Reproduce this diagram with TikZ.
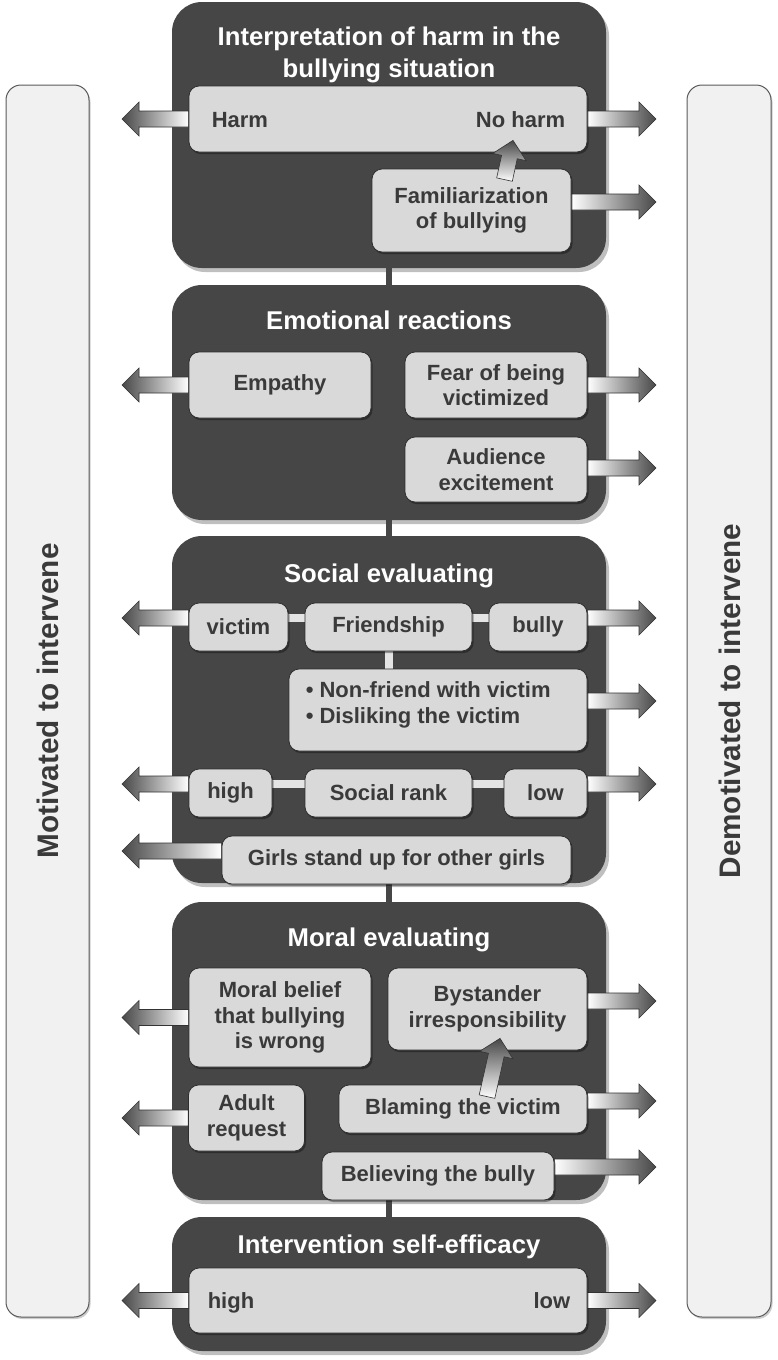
\documentclass[tikz,border=0pt]{standalone}
\usepackage{fontspec}
\setmainfont{Liberation Sans}
\usetikzlibrary{calc,shadows}
\pgfdeclarelayer{back}
\pgfdeclarelayer{mid}
\pgfsetlayers{back,mid,main}
\definecolor{panel}{HTML}{464646}
\definecolor{boxfill}{HTML}{D9D9D9}
\definecolor{boxline}{HTML}{2E2E2E}
\definecolor{txt}{HTML}{3A3A3A}
\definecolor{barfill}{HTML}{F1F1F1}
\definecolor{barline}{HTML}{5A5A5A}
\definecolor{arrdark}{HTML}{484848}
\definecolor{lconn}{HTML}{E4E4E4}
\newcommand\boxfont{\bfseries\fontsize{22}{25.5}\selectfont}
\newcommand\titlefont{\bfseries\fontsize{25.7}{32}\selectfont}
\newcommand\sidefont{\bfseries\fontsize{29.7}{34}\selectfont}
% fat arrow from coordinate #1 to tip coordinate #2, shading style #3
\newcommand\fatarrow[3]{%
  \coordinate (hb) at ($(#2)!17pt!(#1)$);
  \path[garrow,#3] ($(#1)!8pt!90:(#2)$) -- ($(hb)!8pt!90:(#2)$) -- ($(hb)!17pt!90:(#2)$) -- (#2)
     -- ($(hb)!17pt!-90:(#2)$) -- ($(hb)!8pt!-90:(#2)$) -- ($(#1)!8pt!-90:(#2)$) -- cycle;}
\begin{document}
\begin{tikzpicture}[x=1pt,y=-1pt,
  panelbox/.style={rectangle, rounded corners=30pt, fill=panel, draw=none, minimum width=434pt, inner sep=0pt,
     drop shadow={shadow xshift=3pt,shadow yshift=-4pt,opacity=0.25,fill=black}},
  bx/.style={rectangle, rounded corners=10pt, fill=boxfill, draw=boxline, line width=0.8pt, text=txt,
     font=\boxfont, align=center, inner sep=0pt,
     drop shadow={shadow xshift=1.5pt,shadow yshift=-2pt,opacity=0.35,fill=black}},
  ttl/.style={text=white, font=\titlefont, align=center, inner sep=0pt},
  lbl/.style={text=txt, font=\boxfont, inner sep=0pt},
  bar/.style={rectangle, rounded corners=15pt, fill=barfill, draw=barline, line width=1pt,
     minimum height=1232pt, inner sep=0pt,
     drop shadow={shadow xshift=1.5pt,shadow yshift=-2pt,opacity=0.2,fill=black}},
  side/.style={text=txt, font=\sidefont, rotate=90, inner sep=0pt},
  garrow/.style={draw=black!80, line width=0.6pt, line join=miter},
  ldir/.style={left color=arrdark, right color=white},
  rdir/.style={left color=white, right color=arrdark},
  udir/.style={top color=arrdark, bottom color=white},
  pconn/.style={draw=panel, line width=6pt},
  iconn/.style={draw=lconn, line width=8pt},
]
\useasboundingbox (0,0) rectangle (777,1360);
\coordinate (leftx) at (122,0);
\coordinate (rightx) at (656,0);

\begin{pgfonlayer}{back}
  \node[bar, minimum width=83pt] (lbar) at (47.5,701) {};
  \node[bar, minimum width=84pt] (rbar) at (729,701) {};
  \node[panelbox, minimum height=266pt] (p1) at (389,135) {};
  \node[panelbox, minimum height=235pt] (p2) at (389,402.5) {};
  \node[panelbox, minimum height=347pt] (p3) at (389,709.5) {};
  \node[panelbox, minimum height=298pt] (p4) at (389,1051) {};
  \node[panelbox, minimum height=134pt] (p5) at (389,1284) {};
  \draw[pconn] (p1.south) -- (p2.north);
  \draw[pconn] (p2.south) -- (p3.north);
  \draw[pconn] (p3.south) -- (p4.north);
  \draw[pconn] (p4.south) -- (p5.north);
\end{pgfonlayer}

\node[side] (mot) at (48,701) {Motivated to intervene};
\node[side] (demot) at (730,701) {Demotivated to intervene};

% titles
\node[ttl] (t1) at (389,55) {Interpretation of harm in the\\bullying situation};
\node[ttl] (t2) at (389,320) {Emotional reactions};
\node[ttl] (t3) at (389,576) {Social evaluating};
\node[ttl] (t4) at (389,940) {Moral evaluating};
\node[ttl] (t5) at (389,1247) {Intervention self-efficacy};

% panel 1
\node[bx, minimum width=398pt, minimum height=66pt] (hn) at (388,119) {};
\node[lbl, anchor=base west] (harm) at ([xshift=23pt,yshift=-8pt]hn.west) {Harm};
\node[lbl, anchor=base east] (noharm) at ([xshift=-22pt,yshift=-8pt]hn.east) {No harm};
\node[bx, minimum width=199pt, minimum height=83pt] (fam) at (471.5,210.5) {Familiarization\\of bullying};

% panel 2
\node[bx, minimum width=182pt, minimum height=66pt] (emp) at (280,385) {Empathy};
\node[bx, minimum width=182pt, minimum height=66pt] (fear) at (496,385) {Fear of being\\victimized};
\node[bx, minimum width=182pt, minimum height=65pt] (aud) at (496,469.5) {Audience\\excitement};

% panel 3
\node[bx, minimum width=99pt, minimum height=48pt] (victim) at (238.5,627) {victim};
\node[bx, minimum width=167pt, minimum height=48pt] (friend) at (388.5,627) {Friendship};
\node[bx, minimum width=98pt, minimum height=48pt] (bully) at (538,627) {bully};
\node[bx, minimum width=298pt, minimum height=82pt] (nf) at (438,710) {};
\node[lbl, anchor=west, align=left] (nftext) at ([xshift=17pt,yshift=5pt]nf.west) {\textbullet\ Non-friend with victim\\\textbullet\ Disliking the victim};
\node[bx, minimum width=83pt, minimum height=48pt] (high) at (230.5,793) {high};
\node[bx, minimum width=167pt, minimum height=48pt] (rank) at (388.5,793) {Social rank};
\node[bx, minimum width=83pt, minimum height=48pt] (low) at (545.5,793) {low};
\node[bx, minimum width=349pt, minimum height=48pt] (girls) at (396.5,860) {Girls stand up for other girls};

% panel 4
\node[bx, minimum width=182pt, minimum height=99pt] (moral) at (280,1017.5) {Moral belief\\that bullying\\is wrong};
\node[bx, minimum width=199pt, minimum height=82pt] (bys) at (487.5,1009) {Bystander\\irresponsibility};
\node[bx, minimum width=116pt, minimum height=66pt] (adult) at (246.5,1118) {Adult\\request};
\node[bx, minimum width=248pt, minimum height=48pt] (blame) at (463,1109) {Blaming the victim};
\node[bx, minimum width=232pt, minimum height=48pt] (believe) at (438,1176) {Believing the bully};

% panel 5
\node[bx, minimum width=398pt, minimum height=65pt] (hl) at (388,1300.5) {};
\node[lbl, anchor=base west] (hltext) at ([xshift=19pt,yshift=-8pt]hl.west) {high};
\node[lbl, anchor=base east] (lltext) at ([xshift=-17pt,yshift=-8pt]hl.east) {low};

\begin{pgfonlayer}{mid}
  % internal connectors
  \draw[iconn] ([yshift=9pt]victim.east) -- ([yshift=9pt]friend.west);
  \draw[iconn] ([yshift=9pt]friend.east) -- ([yshift=9pt]bully.west);
  \draw[iconn] (friend.south) -- (friend.south |- nf.north);
  \draw[iconn] ([yshift=9pt]high.east) -- ([yshift=9pt]rank.west);
  \draw[iconn] ([yshift=9pt]rank.east) -- ([yshift=9pt]low.west);
  % side arrows
  \coordinate (s1) at (hn.west);  \coordinate (e1) at (s1 -| leftx);  \fatarrow{s1}{e1}{ldir}
  \coordinate (s2) at (hn.east);  \coordinate (e2) at (s2 -| rightx); \fatarrow{s2}{e2}{rdir}
  \coordinate (s3) at ([yshift=8.5pt]fam.east); \coordinate (e3) at (s3 -| rightx); \fatarrow{s3}{e3}{rdir}
  \coordinate (s4) at (emp.west); \coordinate (e4) at (s4 -| leftx); \fatarrow{s4}{e4}{ldir}
  \coordinate (s5) at (fear.east); \coordinate (e5) at (s5 -| rightx); \fatarrow{s5}{e5}{rdir}
  \coordinate (s6) at ([yshift=1.5pt]aud.east); \coordinate (e6) at (s6 -| rightx); \fatarrow{s6}{e6}{rdir}
  \coordinate (s7) at ([yshift=9pt]victim.west); \coordinate (e7) at (s7 -| leftx); \fatarrow{s7}{e7}{ldir}
  \coordinate (s8) at ([yshift=9pt]bully.east); \coordinate (e8) at (s8 -| rightx); \fatarrow{s8}{e8}{rdir}
  \coordinate (s9) at ([yshift=9pt]nf.east); \coordinate (e9) at (s9 -| rightx); \fatarrow{s9}{e9}{rdir}
  \coordinate (s10) at ([yshift=9pt]high.west); \coordinate (e10) at (s10 -| leftx); \fatarrow{s10}{e10}{ldir}
  \coordinate (s11) at ([yshift=9pt]low.east); \coordinate (e11) at (s11 -| rightx); \fatarrow{s11}{e11}{rdir}
  \coordinate (s12) at ([yshift=9pt]girls.west); \coordinate (e12) at (s12 -| leftx); \fatarrow{s12}{e12}{ldir}
  \coordinate (s13) at (moral.west); \coordinate (e13) at (s13 -| leftx); \fatarrow{s13}{e13}{ldir}
  \coordinate (s14) at ([yshift=8pt]bys.east); \coordinate (e14) at (s14 -| rightx); \fatarrow{s14}{e14}{rdir}
  \coordinate (s15) at (adult.west); \coordinate (e15) at (s15 -| leftx); \fatarrow{s15}{e15}{ldir}
  \coordinate (s16) at ([yshift=8pt]blame.east); \coordinate (e16) at (s16 -| rightx); \fatarrow{s16}{e16}{rdir}
  \coordinate (s17) at ([yshift=9pt]believe.east); \coordinate (e17) at (s17 -| rightx); \fatarrow{s17}{e17}{rdir}
  \coordinate (s18) at (hl.west); \coordinate (e18) at (s18 -| leftx); \fatarrow{s18}{e18}{ldir}
  \coordinate (s19) at (hl.east); \coordinate (e19) at (s19 -| rightx); \fatarrow{s19}{e19}{rdir}
\end{pgfonlayer}

% up arrows over boxes
\coordinate (u1s) at ([xshift=33pt,yshift=-11pt]fam.north);
\coordinate (u1t) at ([xshift=125pt,yshift=12pt]hn.south);
\fatarrow{u1s}{u1t}{udir}
\coordinate (u2s) at ([xshift=24pt,yshift=-12pt]blame.north);
\coordinate (u2t) at ([xshift=12.5pt,yshift=12pt]bys.south);
\fatarrow{u2s}{u2t}{udir}
\end{tikzpicture}
\end{document}
